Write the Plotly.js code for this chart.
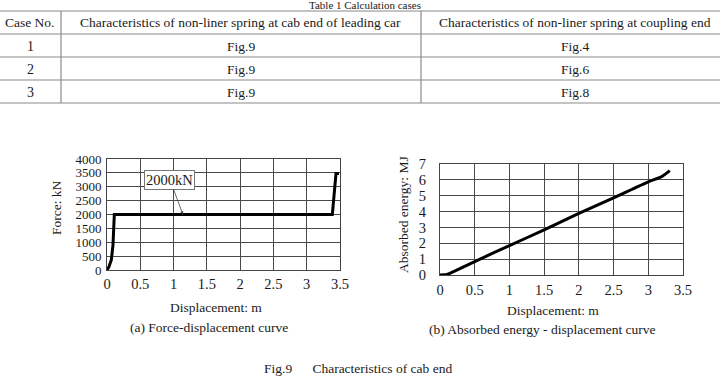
<!DOCTYPE html>
<html><head><meta charset="utf-8">
<script src="https://cdn.plot.ly/plotly-3.0.1.min.js"></script>
<style>html,body{margin:0;padding:0;background:#fff}</style>
</head><body>
<div id="chart" style="width:720px;height:385px"></div>
<script>
// ---- Table data ----
const tableTitle = "Table 1 Calculation cases";
const tableHeader = ["Case No.", "Characteristics of non-liner spring at cab end of leading car", "Characteristics of non-liner spring at coupling end"];
const caseNo = ["1", "2", "3"];
const cabEnd = ["Fig.9", "Fig.9", "Fig.9"];
const couplingEnd = ["Fig.4", "Fig.6", "Fig.8"];

// ---- Chart (a) force-displacement ----
const forceDisp = [0, 0.03, 0.065, 0.09, 0.11, 1.0, 2.0, 3.0, 3.385, 3.44, 3.485];
const forceKN   = [0, 120, 360, 900, 2000, 2000, 2000, 2000, 2000, 3480, 3480];

// ---- Chart (b) absorbed energy ----
const energyDisp = [0, 0.05, 0.1, 0.15, 0.5, 1.0, 1.5, 2.0, 2.5, 3.0, 3.2, 3.31];
const energyMJ   = [0, 0.01, 0.04, 0.12, 0.85, 1.85, 2.85, 3.88, 4.87, 5.88, 6.22, 6.58];

const xTicks = [0, 0.5, 1, 1.5, 2, 2.5, 3, 3.5];

const W = 720, H = 385;
const px = x => x / W;
const py = y => 1 - y / H;
const FONT = "Liberation Serif";
const TXT = "#1a1a1a";

const shapes = [];
const annotations = [];

// table lines
[11, 34, 57, 80, 103].forEach(y => shapes.push({type:"line", xref:"paper", yref:"paper", x0:0, x1:1, y0:py(y), y1:py(y), line:{color:"#8a8a8a", width:1.2}}));
[61, 421].forEach(x => shapes.push({type:"line", xref:"paper", yref:"paper", x0:px(x), x1:px(x), y0:py(11), y1:py(103), line:{color:"#8a8a8a", width:1.2}}));

function txt(t, x, y, size, extra) {
  annotations.push(Object.assign({text:t, xref:"paper", yref:"paper", x:px(x), y:py(y), xanchor:"center", yanchor:"middle", showarrow:false, font:{family:FONT, size:size, color:TXT}}, extra || {}));
}
txt(tableTitle, 365, 5, 11, {borderpad:0});
const colCenters = [30, 241, 575];
tableHeader.forEach((h, i) => txt(h, colCenters[i], 22.5, 13.5));
const rowY = [46.5, 69.5, 92.5];
caseNo.forEach((c, i) => {
  txt(c, colCenters[0], rowY[i], 14);
  txt(cabEnd[i], colCenters[1], rowY[i], 13.5);
  txt(couplingEnd[i], colCenters[2], rowY[i], 13.5);
});

// chart texts
txt("Displacement: m", 215.5, 307.5, 13.5);
txt("(a) Force-displacement curve", 209, 327.5, 13.5);
txt("Displacement: m", 553, 310, 13.5);
txt("(b) Absorbed energy - displacement curve", 542.5, 329, 13.5);
txt("Force: kN", 57, 208, 13.5, {textangle:-90});
txt("Absorbed energy: MJ", 403, 215, 13.5, {textangle:-90});
txt("Fig.9\u2003\u2002Characteristics of cab end", 358, 368, 13.5);

// 2000kN callout
annotations.push({text:"2000kN", xref:"x", yref:"y", x:1.14, y:2000, ax:-13, ay:-35,
  showarrow:true, arrowhead:2, arrowsize:0.8, arrowwidth:0.8, arrowcolor:"#444",
  font:{family:FONT, size:14.5, color:TXT}, bgcolor:"#fff", bordercolor:"#777", borderwidth:1, borderpad:1});

const axCommon = {showgrid:true, gridcolor:"#4a4a4a", gridwidth:1, showline:true, linecolor:"#444", linewidth:1, mirror:true,
  zeroline:false, ticks:"", tickfont:{family:FONT, size:14.5, color:TXT}, fixedrange:true};

const layout = {
  width:W, height:H, margin:{l:0, r:0, t:0, b:0}, paper_bgcolor:"#fff", plot_bgcolor:"#fff",
  showlegend:false,
  xaxis: Object.assign({}, axCommon, {domain:[px(107), px(340)], range:[0, 3.5], tickvals:xTicks, anchor:"y", ticklabelstandoff:1}),
  yaxis: Object.assign({}, axCommon, {domain:[py(270), py(159)], range:[0, 4000], dtick:500, tick0:0, anchor:"x", ticklabelstandoff:2, tickfont:{family:FONT, size:13, color:TXT}}),
  xaxis2: Object.assign({}, axCommon, {domain:[px(440), px(683)], range:[0, 3.5], tickvals:xTicks, anchor:"y2", ticklabelstandoff:2}),
  yaxis2: Object.assign({}, axCommon, {domain:[py(275), py(164)], range:[0, 7], dtick:1, tick0:0, anchor:"x2", ticklabelstandoff:10}),
  shapes: shapes,
  annotations: annotations
};

const traces = [
  {x:forceDisp, y:forceKN, type:"scatter", mode:"lines", line:{color:"#000", width:3}, xaxis:"x", yaxis:"y", cliponaxis:false},
  {x:energyDisp, y:energyMJ, type:"scatter", mode:"lines", line:{color:"#000", width:3, shape:"spline", smoothing:0.6}, xaxis:"x2", yaxis:"y2", cliponaxis:false}
];

Plotly.newPlot("chart", traces, layout, {staticPlot:true, displayModeBar:false});
</script>
</body></html>
